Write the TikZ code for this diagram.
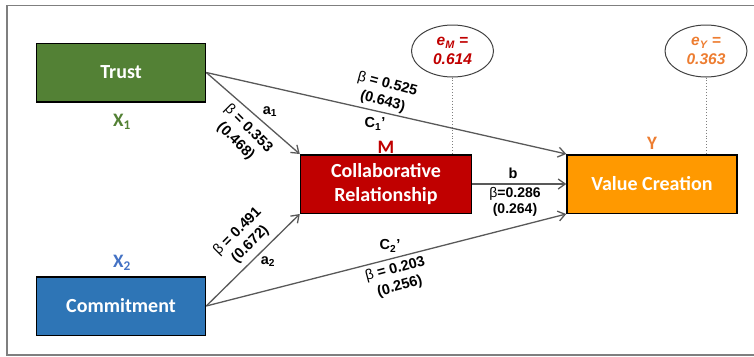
\documentclass[tikz,border=0pt]{standalone}
\usepackage{fontspec}
\setmainfont{Liberation Sans}
\newfontfamily\boxfont{Carlito}
\usetikzlibrary{arrows.meta,shapes.geometric}

\definecolor{trustc}{HTML}{538135}
\definecolor{commitc}{HTML}{2E75B6}
\definecolor{collabc}{HTML}{C00000}
\definecolor{valuec}{HTML}{FF9900}
\definecolor{xtwoc}{HTML}{4472C4}
\definecolor{yc}{HTML}{ED7D31}
\definecolor{arrc}{HTML}{595959}
\definecolor{framec}{HTML}{7F7F7F}
\newcommand{\bet}{{\mdseries β}}

\begin{document}
\begin{tikzpicture}[x=1pt,y=-1pt,
  varbox/.style={draw=black, line width=1.5pt, minimum width=169pt, minimum height=58.5pt,
    inner sep=0pt, text=white, font=\boxfont\bfseries\fontsize{20}{24}\selectfont, align=center},
  arrowline/.style={draw=arrc, line width=1.3pt, -{Straight Barb[length=7pt,width=10pt]}},
  lbl/.style={font=\bfseries\fontsize{14.5}{18}\selectfont, align=center, inner sep=0pt},
  varlbl/.style={font=\boxfont\bfseries\fontsize{19}{20}\selectfont, inner sep=0pt},
  errell/.style={draw=black!75, line width=1pt, ellipse, minimum width=82pt, minimum height=52pt,
    inner sep=0pt, align=center, font=\bfseries\itshape\fontsize{15.5}{19}\selectfont},
  dotline/.style={draw=framec, line width=0.9pt, dotted}
]
\useasboundingbox (0,0) rectangle (754,356);
\draw[framec, line width=1.5pt] (760,5.5) -- (7,5.5) -- (7,355) -- (760,355);

% variable boxes
\node[varbox, fill=trustc] (trust) at (121,72.5) {Trust};
\node[varbox, fill=commitc] (commit) at (121,306) {Commitment};
\node[varbox, fill=collabc, minimum width=171pt] (collab) at (386,184) {Collaborative\\Relationship};
\node[varbox, fill=valuec, minimum width=170pt] (value) at (652,184) {Value Creation};

% variable labels
\node[varlbl, text=trustc] (xone) at (122,122) {X\textsubscript{1}};
\node[varlbl, text=xtwoc] (xtwo) at (122,263) {X\textsubscript{2}};
\node[varlbl, text=collabc] (mlbl) at (386,147) {M};
\node[varlbl, text=yc] (ylbl) at (652,143) {Y};

% error ellipses
\node[errell, text=collabc] (eM) at (452.5,51) {e\textsubscript{M} =\\0.614};
\node[errell, text=yc] (eY) at (706,51) {e\textsubscript{Y} =\\0.363};
\draw[dotline] (eM.south) -- (eM.south |- collab.north);
\draw[dotline] (eY.south) -- (eY.south |- value.north);

% paths
\draw[arrowline] (trust.east) -- (collab.north west);
\draw[arrowline] (trust.east) -- (value.north west);
\draw[arrowline] (commit.east) -- (collab.south west);
\draw[arrowline] (commit.east) -- (value.south west);
\draw[arrowline] (collab.east) -- (value.west);

% path labels
\node[lbl, rotate=-15] (c1coef) at (385,93) {\bet{} = 0.525\\(0.643)};
\node[lbl] (c1lbl) at (375,124) {C\textsubscript{1}’};
\node[lbl, rotate=-45] (a1coef) at (242,135) {\bet{} = 0.353\\(0.468)};
\node[lbl] (a1lbl) at (270,112) {a\textsubscript{1}};
\node[lbl, rotate=45] (a2coef) at (244,238) {\bet{} = 0.491\\(0.672)};
\node[lbl] (a2lbl) at (268,262) {a\textsubscript{2}};
\node[lbl] (blbl) at (513,173) {b};
\node[lbl, font=\bfseries\fontsize{14}{15.7}\selectfont] (bcoef) at (515,202) {\bet=0.286\\(0.264)};
\node[lbl] (c2lbl) at (390,246) {C\textsubscript{2}’};
\node[lbl, rotate=15] (c2coef) at (397.5,278) {\bet{} = 0.203\\(0.256)};
\end{tikzpicture}
\end{document}
